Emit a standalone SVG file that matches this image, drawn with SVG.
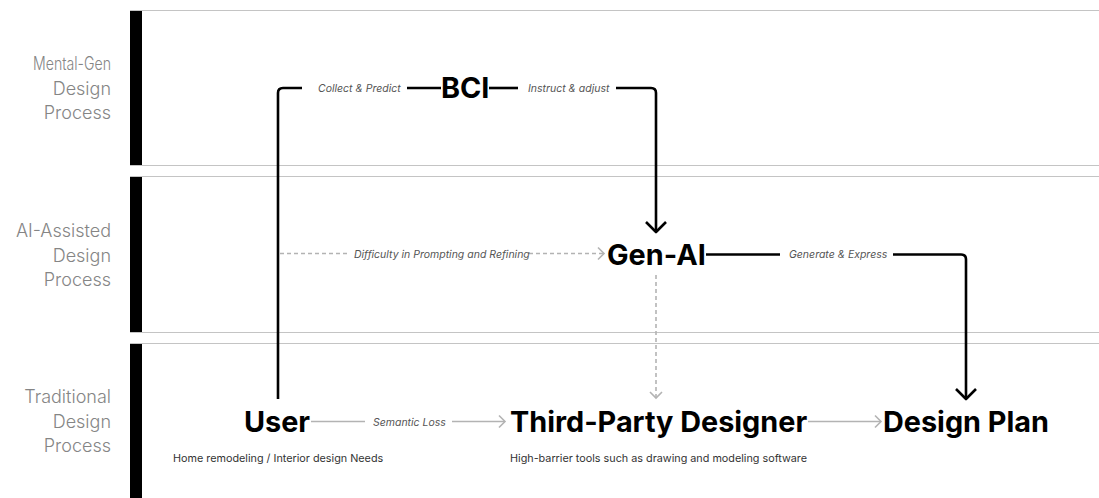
<svg xmlns="http://www.w3.org/2000/svg" width="1099" height="498" viewBox="0 0 1099 498">
<defs>
<style>
.lane{font-family:Inter,"Noto Sans",sans-serif;font-weight:300;font-size:18px;fill:#858585;text-anchor:end}
.node{font-family:Inter,"Noto Sans",sans-serif;font-weight:700;font-size:28.8px;fill:#000}
.lbl{font-family:Inter,"Noto Sans",sans-serif;font-style:italic;font-size:10.5px;fill:#555}
.sub{font-family:Inter,"Noto Sans",sans-serif;font-size:10.8px;fill:#333}
.sep{stroke:#c4c4c4;stroke-width:1.2;fill:none}
.bar{fill:#000}
.blk{stroke:#000;stroke-width:2.6;fill:none;stroke-linejoin:round}
.gry{stroke:#b3b3b3;stroke-width:1.6;fill:none}
.dsh{stroke:#b3b3b3;stroke-width:1.6;fill:none;stroke-dasharray:4 3}
</style>
</defs>
<g id="lanes">
<rect class="bar" x="130" y="10" width="12" height="156"/>
<rect class="bar" x="130" y="176" width="12" height="157"/>
<rect class="bar" x="130" y="343" width="12" height="155"/>
<line class="sep" x1="130" y1="10.5" x2="1099" y2="10.5"/>
<line class="sep" x1="130" y1="165.5" x2="1099" y2="165.5"/>
<line class="sep" x1="130" y1="176.5" x2="1099" y2="176.5"/>
<line class="sep" x1="130" y1="332.5" x2="1099" y2="332.5"/>
<line class="sep" x1="130" y1="343.5" x2="1099" y2="343.5"/>
<text class="lane"><tspan x="111" y="70" textLength="78" lengthAdjust="spacingAndGlyphs">Mental-Gen</tspan><tspan x="111" y="94.5">Design</tspan><tspan x="111" y="119">Process</tspan></text>
<text class="lane"><tspan x="111" y="237">AI-Assisted</tspan><tspan x="111" y="261.5">Design</tspan><tspan x="111" y="286">Process</tspan></text>
<text class="lane"><tspan x="111" y="403">Traditional</tspan><tspan x="111" y="427.5">Design</tspan><tspan x="111" y="452">Process</tspan></text>
</g>
<g id="connectors">
<path class="blk" d="M278 399 V93 Q278 88 283 88 H302"/>
<line class="blk" x1="407" y1="88" x2="441" y2="88"/>
<line class="blk" x1="489" y1="88" x2="518" y2="88"/>
<path class="blk" d="M616 88 H651 Q656 88 656 93 V232"/>
<path class="blk" d="M646 222 L656 232 L666 222"/>
<line class="blk" x1="706" y1="254.5" x2="780" y2="254.5"/>
<path class="blk" d="M893 254.5 H961 Q966 254.5 966 259.5 V399"/>
<path class="blk" d="M956 389 L966 399 L976 389"/>
<line class="dsh" x1="280" y1="253.5" x2="347" y2="253.5"/>
<line class="dsh" x1="529" y1="253.5" x2="604" y2="253.5"/>
<path class="gry" d="M598 247.5 L604 253.5 L598 259.5"/>
<line class="dsh" x1="656" y1="275" x2="656" y2="398"/>
<path class="gry" d="M650 392 L656 398 L662 392"/>
<line class="gry" x1="311" y1="421.5" x2="365" y2="421.5"/>
<line class="gry" x1="452" y1="421.5" x2="505" y2="421.5"/>
<path class="gry" d="M499 415.5 L505 421.5 L499 427.5"/>
<line class="gry" x1="808" y1="421.5" x2="881" y2="421.5"/>
<path class="gry" d="M875 415.5 L881 421.5 L875 427.5"/>
<text class="lbl" x="318" y="92">Collect &amp; Predict</text>
<text class="lbl" x="528" y="92">Instruct &amp; adjust</text>
<text class="lbl" x="789" y="258">Generate &amp; Express</text>
<text class="lbl" x="354" y="257.5">Difficulty in Prompting and Refining</text>
<text class="lbl" x="373" y="425.5">Semantic Loss</text>
</g>
<g id="node-bci"><text class="node" x="441" y="97.5" font-size="27.5">BCI</text></g>
<g id="node-genai"><text class="node" x="607" y="264.5">Gen-AI</text></g>
<g id="node-user"><text class="node" x="244" y="431.5">User</text><text class="sub" x="173" y="462">Home remodeling / Interior design Needs</text></g>
<g id="node-designer"><text class="node" x="510" y="431.5">Third-Party Designer</text><text class="sub" x="510" y="462">High-barrier tools such as drawing and modeling software</text></g>
<g id="node-plan"><text class="node" x="883" y="431.5">Design Plan</text></g>
</svg>
